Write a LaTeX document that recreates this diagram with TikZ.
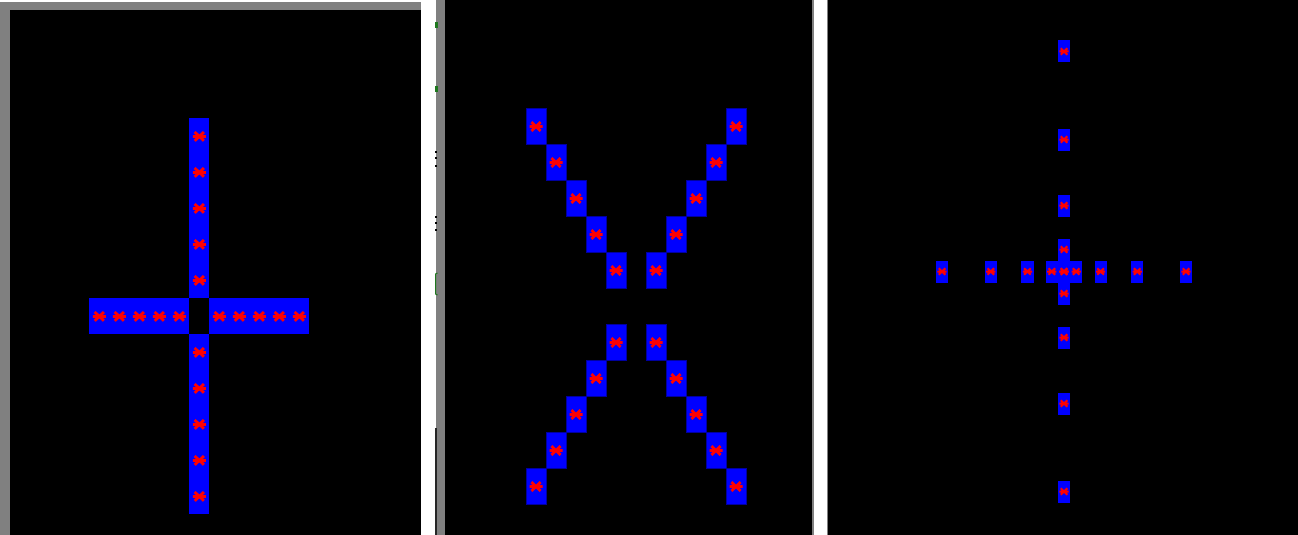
\documentclass[tikz,border=0pt]{standalone}
\usepackage{tikz}
\usetikzlibrary{positioning}
\tikzset{every picture/.style={line width=0.75pt}}
\definecolor{framegray}{RGB}{128,128,128}
\definecolor{celledge}{RGB}{0,0,160}
\definecolor{markgreen}{RGB}{30,120,30}
\tikzset{
  bigcell/.style={fill=blue, inner sep=0pt, outer sep=0pt, minimum width=20pt, minimum height=36pt},
  gridcell/.style={bigcell, draw=celledge, line width=0.8pt},
  smallcell/.style={fill=blue, inner sep=0pt, outer sep=0pt, minimum width=12.2pt, minimum height=22pt},
  redmark/.pic={\draw[red, line width=2.8pt] (-6.5,0) -- (6.5,0) (-4.6,-4.4) -- (4.6,4.4) (-4.6,4.4) -- (4.6,-4.4);},
  smallmark/.pic={\draw[red, line width=2pt] (-4.6,0) -- (4.6,0) (-3.3,-3.2) -- (3.3,3.2) (-3.3,3.2) -- (3.3,-3.2);}
}

\begin{document}
\begin{tikzpicture}[x=1pt, y=-1pt]
    \useasboundingbox (0,0) rectangle (1298,535);
    \fill[white] (0,0) rectangle (1298,535);

    % 面板一：十字
    \fill[framegray] (0,2.5) rectangle (421,535);
    \fill[black] (9.5,10) rectangle (421,535);
    \foreach \k in {0,1,2,3,4,6,7,8,9,10} {
        \node[bigcell] (h\k) at (99.3+20*\k, 316.4) {};
        \node[bigcell] (v\k) at (199.3, 136.4+36*\k) {};
        \pic at (h\k) {redmark};
        \pic at (v\k) {redmark};
    }

    % 中间的窗口边
    \fill[framegray] (436,0) rectangle (445,535);
    \fill[black!85] (434.6,428) rectangle (437,535);
    \fill[markgreen] (435,22) rectangle (437.5,28);
    \fill[markgreen] (435,86) rectangle (437.5,92);
    \foreach \y in {152,158,166,217,223,230}
        \fill[black] (434.8,\y-1.4) rectangle (437.2,\y+1.4);
    \draw[markgreen, line width=1pt] (437.5,273) -- (435.6,274) -- (435.6,294) -- (437.5,295);

    % 面板二：叉形
    \fill[black] (445,0) rectangle (812,535);
    \fill[framegray] (812,0) rectangle (813.5,535);
    \foreach \k in {0,1,2,3,4,6,7,8,9,10} {
        \node[gridcell] (d\k) at (536+20*\k, 126.5+36*\k) {};
        \node[gridcell] (e\k) at (736-20*\k, 126.5+36*\k) {};
        \pic at (d\k) {redmark};
        \pic at (e\k) {redmark};
    }

    % 面板三：稀疏十字
    \fill[framegray] (826.7,0) rectangle (827.7,535);
    \fill[black] (827.7,0) rectangle (1298,535);
    \foreach \n in {-10,-6,-3,-1,0,1,3,6,10} {
        \node[smallcell] (s\n) at (1064+12.2*\n, 271.5) {};
        \node[smallcell] (t\n) at (1064, 271.5+22*\n) {};
    }
    \foreach \n in {-10,-6,-3,-1,0,1,3,6,10} {
        \pic at (s\n) {smallmark};
        \pic at (t\n) {smallmark};
    }
\end{tikzpicture}
\end{document}
